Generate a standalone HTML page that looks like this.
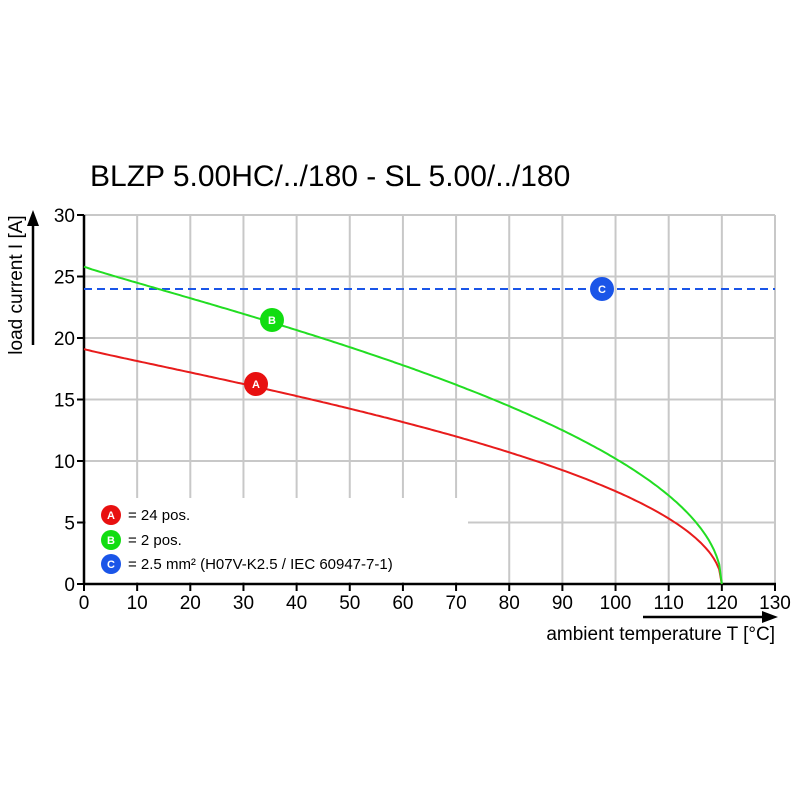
<!DOCTYPE html>
<html><head><meta charset="utf-8"><style>body{margin:0;background:#fff}svg{display:block}text{font-family:"Liberation Sans",Arial,sans-serif;fill:#000}</style></head>
<body>
<svg id="s" width="800" height="800" viewBox="0 0 800 800">
<text x="90" y="186" font-size="30">BLZP 5.00HC/../180 - SL 5.00/../180</text>
<g id="grid" stroke="#c8c8c8" stroke-width="2"></g>
<rect x="86" y="498" width="382" height="84" fill="#fff"/>
<line x1="84" y1="584" x2="84" y2="215" stroke="#000" stroke-width="2.5"/>
<line x1="84" y1="584" x2="776" y2="584" stroke="#000" stroke-width="2.5"/>
<g id="ticks" stroke="#000" stroke-width="2"></g>
<g id="lab" font-size="19"></g>
<line x1="84" y1="289" x2="775" y2="289" stroke="#1a55e8" stroke-width="2" stroke-dasharray="8,5"/>
<path id="pa" fill="none" stroke="#e81c1c" stroke-width="2"/>
<path id="pb" fill="none" stroke="#22dd22" stroke-width="2"/>
<g font-size="11" font-weight="bold" text-anchor="middle">
<circle cx="256" cy="384" r="12" fill="#e81010"/><text x="256" y="388" style="fill:#fff">A</text>
<circle cx="272" cy="320" r="12" fill="#11dd11"/><text x="272" y="324" style="fill:#fff">B</text>
<circle cx="602" cy="289" r="12" fill="#1a55e8"/><text x="602" y="293" style="fill:#fff">C</text>
<circle cx="111" cy="515" r="10" fill="#e81010"/><text x="111" y="519" style="fill:#fff">A</text>
<circle cx="111" cy="540" r="10" fill="#11dd11"/><text x="111" y="544" style="fill:#fff">B</text>
<circle cx="111" cy="564" r="10" fill="#1a55e8"/><text x="111" y="568" style="fill:#fff">C</text>
</g>
<g font-size="15"><text x="128" y="520">= 24 pos.</text><text x="128" y="545">= 2 pos.</text><text x="128" y="569">= 2.5 mm² (H07V-K2.5 / IEC 60947-7-1)</text></g>
<text transform="translate(22,285) rotate(-90)" font-size="19" text-anchor="middle">load current I [A]</text>
<line x1="33" y1="345" x2="33" y2="222" stroke="#000" stroke-width="2.5"/>
<polygon points="33,210 27,226 39,226" fill="#000"/>
<text x="775" y="640" font-size="19" text-anchor="end">ambient temperature T [°C]</text>
<line x1="643" y1="617" x2="765" y2="617" stroke="#000" stroke-width="2.5"/>
<polygon points="778,617 762,611 762,623" fill="#000"/>
</svg>
<script>
var X=t=>84+t*691/130,Y=v=>584-v*12.3,ns="http://www.w3.org/2000/svg";
function el(p,n,a,tx){var e=document.createElementNS(ns,n);for(var k in a)e.setAttribute(k,a[k]);if(tx!==undefined)e.textContent=String(tx);document.getElementById(p).appendChild(e);}
for(var i=1;i<=13;i++){var x=X(i*10);el("grid","line",{x1:x,y1:215,x2:x,y2:584});}
for(var j=1;j<=6;j++){var y=Y(j*5);el("grid","line",{x1:84,y1:y,x2:775,y2:y});}
for(var i=0;i<=13;i++){var x=X(i*10);el("ticks","line",{x1:x,y1:584,x2:x,y2:591});el("lab","text",{x:x,y:609,"text-anchor":"middle"},i*10);}
for(var j=0;j<=6;j++){var y=Y(j*5);el("ticks","line",{x1:77,y1:y,x2:84,y2:y});el("lab","text",{x:75,y:y+7,"text-anchor":"end"},j*5);}
function path(I0){var d="";for(var t=0;t<=120;t+=0.5){var v=I0*Math.sqrt(Math.max(0,1-Math.pow(t/120,0.93)));d+=(t?"L":"M")+X(t).toFixed(1)+","+Y(v).toFixed(1);}return d;}
document.getElementById("pa").setAttribute("d",path(19.1));
document.getElementById("pb").setAttribute("d",path(25.8));
</script>
</body></html>
